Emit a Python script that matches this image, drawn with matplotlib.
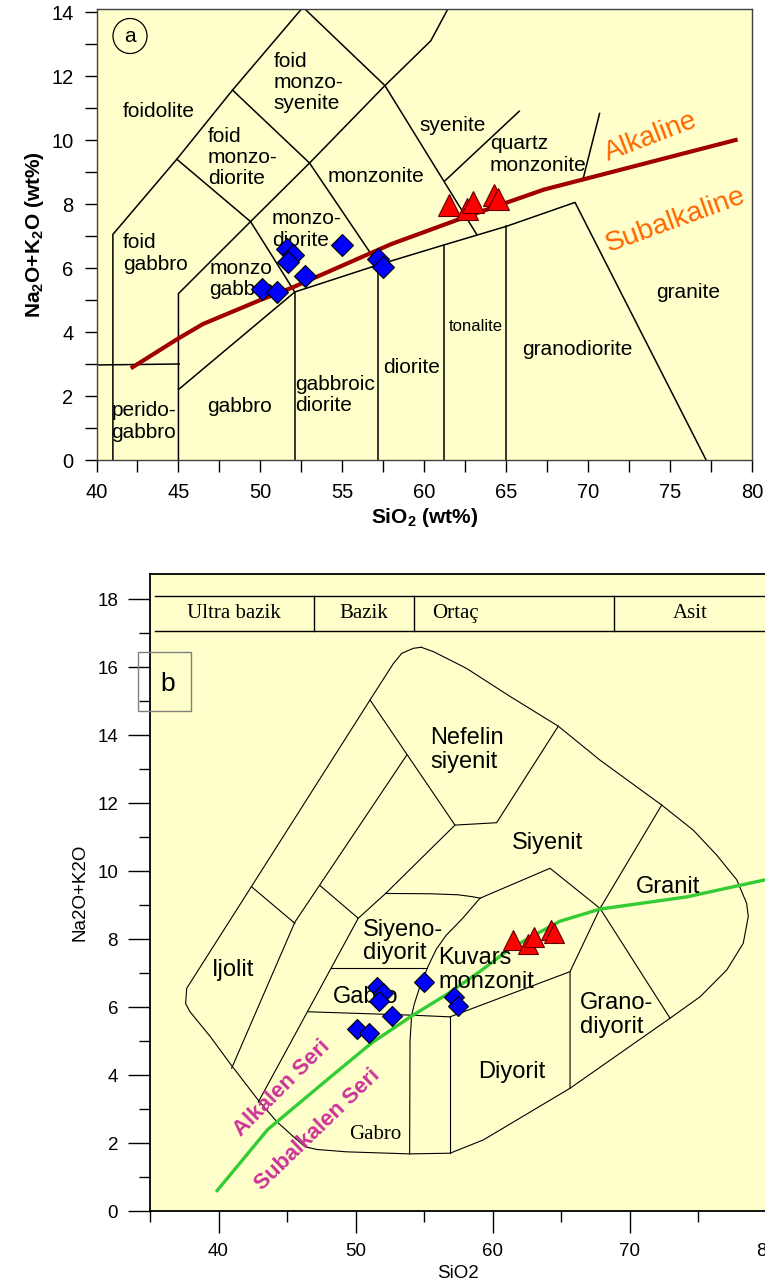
import numpy as np
import matplotlib
matplotlib.use("Agg")
import matplotlib.pyplot as plt
from matplotlib.patches import Rectangle, Ellipse

plt.rcParams['font.family'] = ['Liberation Sans', 'DejaVu Sans']
plt.rcParams['mathtext.fontset'] = 'custom'
plt.rcParams['mathtext.rm'] = 'Liberation Sans'
plt.rcParams['mathtext.bf'] = 'Liberation Sans:bold'

# samples (plotted in both diagrams)
blue_sio2 = [51.6, 52.0, 51.7, 52.7, 50.1, 51.0, 55.0, 57.2, 57.5]
blue_alk = [6.58, 6.40, 6.18, 5.75, 5.35, 5.25, 6.73, 6.28, 6.02]
red_sio2 = [61.5, 62.6, 63.0, 64.25, 64.5]
red_alk = [7.98, 7.85, 8.07, 8.27, 8.17]

# (a) field boundaries, Middlemost-type plutonic TAS
a_lines = [
    ([41.0, 41.0, 44.9, 48.3, 52.6], [0, 7.05, 9.4, 11.56, 14.15]),
    ([40.0, 45.05], [2.97, 3.0]),
    ([45.0, 45.0, 49.4, 53.0, 57.6, 60.4, 61.5], [0, 5.2, 7.45, 9.28, 11.7, 13.1, 14.15]),
    ([44.9, 49.4, 52.1], [9.4, 7.45, 5.25]),
    ([48.3, 53.0, 57.2], [11.56, 9.28, 6.1]),
    ([52.6, 57.6, 63.2], [14.15, 11.7, 7.05]),
    ([61.25, 65.8], [8.72, 10.9]),
    ([69.7, 70.7], [8.8, 10.83]),
    ([45.0, 52.1, 57.2, 61.2, 65.0, 69.2, 77.2], [2.2, 5.25, 6.1, 6.72, 7.3, 8.05, 0]),
    ([52.1, 52.1], [0, 5.25]),
    ([57.2, 57.2], [0, 6.1]),
    ([61.2, 61.2], [0, 6.72]),
    ([65.0, 65.0], [0, 7.3]),
]
a_alk_x = [42.2, 45.0, 46.5, 50.0, 52.0, 58.0, 62.0, 67.3, 79.0]
a_alk_y = [2.9, 3.8, 4.25, 5.0, 5.4, 6.75, 7.5, 8.45, 10.0]

# (b) field boundaries, Cox et al. type plutonic TAS
b_outline_x = [54.8, 55.7, 58.1, 61.3, 64.8, 67.85, 72.35, 74.66, 76.36, 77.83, 78.55, 78.67,
               78.3, 77.1, 75.15, 72.96, 65.66, 59.33, 56.9, 53.95, 49.36, 47.17, 46.31,
               45.46, 44.25, 42.9, 40.84, 39.4, 37.92, 37.6, 37.68, 42.4, 51.06, 52.76,
               53.37, 54.22, 54.8]
b_outline_y = [16.58, 16.45, 15.96, 15.13, 14.26, 13.26, 11.94, 11.2, 10.47, 9.74, 9.05, 8.66,
               7.87, 7.09, 6.3, 5.67, 3.61, 2.09, 1.7, 1.68, 1.74, 1.81, 1.89,
               2.19, 2.63, 3.26, 4.34, 5.13, 5.86, 6.1, 6.55, 9.54, 15.03, 16.1,
               16.4, 16.55, 16.58]
b_lines = [
    ([51.06, 57.26, 60.3, 64.8], [15.03, 11.35, 11.42, 14.26]),
    ([53.74, 45.58, 40.96], [13.41, 8.5, 4.2]),
    ([42.4, 45.58], [9.54, 8.46]),
    ([47.41, 50.2], [9.57, 8.61]),
    ([57.26, 52.2, 50.2, 42.9], [11.35, 9.34, 8.61, 3.2]),
    ([52.2, 55.5, 57.5, 58.6, 59.09], [9.34, 9.33, 9.3, 9.24, 9.2]),
    ([48.23, 55.2], [7.14, 7.14]),
    ([46.5, 54.1, 56.9], [5.86, 5.76, 5.71]),
    ([59.09, 57.8, 56.6, 55.9, 55.3, 54.7, 54.3, 54.1, 53.98, 53.95],
     [9.2, 8.6, 8.1, 7.7, 7.2, 6.6, 6.1, 5.76, 5.0, 1.68]),
    ([59.09, 64.2, 67.85], [9.2, 10.08, 8.9]),
    ([72.35, 67.85, 72.96], [11.94, 8.9, 5.67]),
    ([67.85, 65.66, 65.66], [8.9, 7.04, 3.61]),
    ([56.9, 65.66], [5.71, 7.04]),
    ([56.9, 56.9], [5.71, 1.7]),
]
b_ser_x = [39.9, 43.6, 47.9, 51.2, 54.2, 56.7, 59.1, 61.3, 63.0, 64.9, 67.85, 74.2, 79.9]
b_ser_y = [0.6, 2.4, 3.85, 4.95, 5.76, 6.38, 7.05, 7.72, 8.1, 8.52, 8.88, 9.24, 9.74]

# SiO2 classes along the top of (b)
class_names = ["Ultra bazik", "Bazik", "Ortaç", "Asit"]
class_edges = [35.4, 47.0, 54.3, 68.9, 80.0]

fig = plt.figure(figsize=(7.65, 12.87), dpi=100)

# ---------------- panel a ----------------
ax = fig.add_axes([96.5 / 765, 827 / 1287, 655.5 / 765, 451.2 / 1287])
ax.set_facecolor("#FFFFCC")
for xs, ys in a_lines:
    ax.plot(xs, ys, color="black", lw=1.1, zorder=2)
ax.plot(a_alk_x, a_alk_y, color="#A00000", lw=3, zorder=3)
ax.plot(blue_sio2, blue_alk, ls="none", marker="D", ms=11, mfc="#0000FF", mec="black",
        mew=0.8, zorder=5)
ax.plot(red_sio2, red_alk, ls="none", marker="^", ms=15.5, mfc="#FF0000", mec="#600000",
        mew=0.8, zorder=5)

a_labels = [
    ("foidolite", 43.8, 10.9, "center"),
    ("foid\nmonzo-\nsyenite", 50.8, 11.8, "left"),
    ("foid\nmonzo-\ndiorite", 46.8, 9.45, "left"),
    ("monzonite", 54.1, 8.85, "left"),
    ("syenite", 59.7, 10.45, "left"),
    ("quartz\nmonzonite", 64.0, 9.55, "left"),
    ("foid\ngabbro", 41.6, 6.45, "left"),
    ("monzo-\ndiorite", 50.7, 7.2, "left"),
    ("monzo\ngabbro", 46.9, 5.65, "left"),
    ("perido-\ngabbro", 40.9, 1.2, "left"),
    ("gabbro", 48.7, 1.67, "center"),
    ("gabbroic\ndiorite", 52.1, 2.03, "left"),
    ("diorite", 59.2, 2.89, "center"),
    ("granodiorite", 69.35, 3.44, "center"),
    ("granite", 76.1, 5.23, "center"),
]
for txt, x, y, ha in a_labels:
    ax.text(x, y, txt, ha=ha, va="center", fontsize=15, zorder=4, linespacing=1.15)
ax.text(63.14, 4.17, "tonalite", ha="center", va="center", fontsize=12, zorder=4)
ax.text(73.8, 10.1, "Alkaline", color="#FF6600", fontsize=20, rotation=21,
        ha="center", va="center", zorder=4)
ax.text(75.3, 7.5, "Subalkaline", color="#FF6600", fontsize=20.5, rotation=20,
        ha="center", va="center", zorder=4)
ax.add_patch(Ellipse((0.0511, 0.9397), 0.0519, 0.0776, transform=ax.transAxes,
                     fc="none", ec="black", lw=0.9, zorder=6))
ax.text(0.0511, 0.9397, "a", transform=ax.transAxes, ha="center", va="center",
        fontsize=15, zorder=6)

ax.set_xlim(40, 80)
ax.set_ylim(0, 14.1)
ax.set_xticks(np.arange(40, 81, 5))
ax.set_xticks(np.arange(42.5, 80, 5), minor=True)
ax.set_yticks(np.arange(0, 15, 2))
ax.set_yticks(np.arange(1, 14, 2), minor=True)
ax.tick_params(which="both", direction="out", length=8.5, width=1, labelsize=14.5, pad=8)
for s in ax.spines.values():
    s.set_color("#404040")
    s.set_linewidth(1)
ax.set_xlabel("SiO$_\\mathbf{2}$ (wt%)", fontsize=15, fontweight="bold", labelpad=3)
ax.set_ylabel("Na$_\\mathbf{2}$O+K$_\\mathbf{2}$O (wt%)", fontsize=15, fontweight="bold",
              labelpad=4)

# ---------------- panel b ----------------
bx = fig.add_axes([150 / 765, 76 / 1287, 616.5 / 765, 637.5 / 1287])
bx.set_facecolor("#FFFFCC")
bx.plot(b_outline_x, b_outline_y, color="black", lw=0.8, zorder=2)
for xs, ys in b_lines:
    bx.plot(xs, ys, color="black", lw=0.8, zorder=2)
bx.plot(b_ser_x, b_ser_y, color="#33CC33", lw=2.4, zorder=3)
bx.plot(blue_sio2, blue_alk, ls="none", marker="D", ms=10.5, mfc="#0000FF", mec="black",
        mew=0.8, zorder=5)
bx.plot(red_sio2, red_alk, ls="none", marker="^", ms=14.5, mfc="#FF0000", mec="#600000",
        mew=0.8, zorder=5)

# class table
bx.plot([class_edges[0], class_edges[-1]], [18.09, 18.09], color="black", lw=1, zorder=2)
bx.plot([class_edges[0], class_edges[-1]], [17.06, 17.06], color="black", lw=1, zorder=2)
for xe in class_edges[1:-1]:
    bx.plot([xe, xe], [17.06, 18.09], color="black", lw=1, zorder=2)
class_mid = [41.1, 50.6, 57.3, 74.4]
for name, xm in zip(class_names, class_mid):
    bx.text(xm, 17.58, name, ha="center", va="center", fontsize=15,
            family="Liberation Serif", zorder=4)

b_labels = [
    ("Nefelin\nsiyenit", 55.45, 13.56, "left"),
    ("Siyenit", 63.98, 10.82, "center"),
    ("Granit", 70.5, 9.53, "left"),
    ("Siyeno-\ndiyorit", 50.57, 7.93, "left"),
    ("Kuvars\nmonzonit", 56.05, 7.09, "left"),
    ("Gabro", 50.75, 6.3, "center"),
    ("Ijolit", 41.04, 7.09, "center"),
    ("Diyorit", 61.4, 4.1, "center"),
    ("Grano-\ndiyorit", 66.4, 5.76, "left"),
]
for txt, x, y, ha in b_labels:
    bx.text(x, y, txt, ha=ha, va="center", fontsize=17, zorder=4, linespacing=1.1)
bx.text(51.42, 2.24, "Gabro", ha="center", va="center", fontsize=15,
        family="Liberation Serif", zorder=4)
bx.text(44.6, 3.61, "Alkalen Seri", color="#CC3399", fontsize=16, fontweight="bold",
        rotation=45, ha="center", va="center", zorder=4)
bx.text(47.2, 2.38, "Subalkalen Seri", color="#CC3399", fontsize=16, fontweight="bold",
        rotation=44, ha="center", va="center", zorder=4)

bx.add_patch(Rectangle((-0.0195, 0.784), 0.086, 0.093, transform=bx.transAxes,
                       fc="none", ec="#808080", lw=1, clip_on=False, zorder=6))
bx.text(0.029, 0.827, "b", transform=bx.transAxes, ha="center", va="center",
        fontsize=19, zorder=6)

bx.set_xlim(35, 80)
bx.set_ylim(0, 18.75)
bx.set_xticks([40, 50, 60, 70, 80])
bx.set_xticks([35, 45, 55, 65, 75], minor=True)
bx.set_yticks(np.arange(0, 19, 2))
bx.set_yticks(np.arange(1, 18, 2), minor=True)
bx.tick_params(which="major", direction="out", length=16, width=1, labelsize=13.5, pad=7)
bx.tick_params(which="minor", direction="out", length=8, width=1)
bx.spines["right"].set_visible(False)
for s in ["left", "bottom", "top"]:
    bx.spines[s].set_linewidth(1.3)
bx.set_xlabel("SiO2", fontsize=13.5, labelpad=4)
bx.set_ylabel("Na2O+K2O", fontsize=13.5, labelpad=6)

fig.savefig("out.png", dpi=100)
